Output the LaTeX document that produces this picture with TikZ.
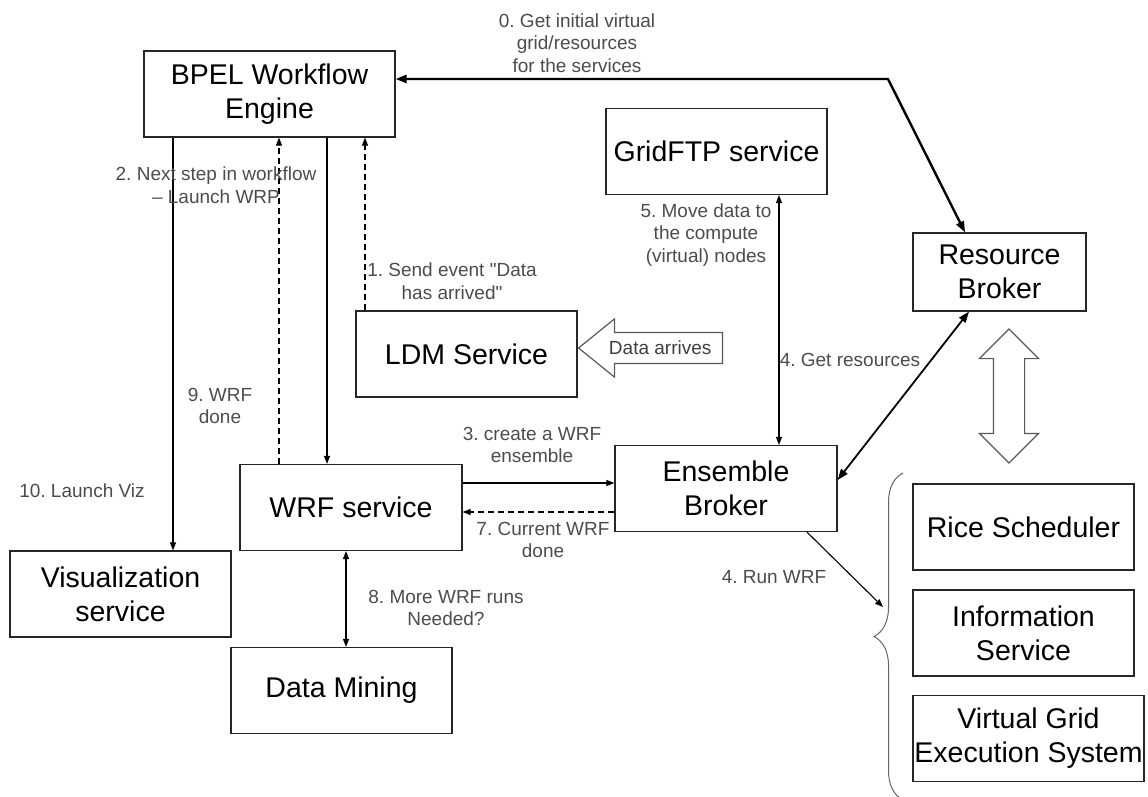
\documentclass[tikz,border=0pt]{standalone}
\usepackage{fontspec}
\setmainfont{Liberation Sans}
\usepackage{tikz}
\usetikzlibrary{arrows.meta, shapes.arrows, decorations.pathreplacing}
\frenchspacing

\begin{document}
\begin{tikzpicture}[x=1pt, y=-1pt, >={Triangle[length=8pt, width=6pt]}]
            \tikzstyle{every node}=[font=\fontsize{19}{22.5}\selectfont]
            \tikzstyle{svc}=[draw=black!85, line width=1.2pt, align=center, inner sep=0pt,
                font=\fontsize{28.5}{34}\selectfont, minimum width=221pt, minimum height=86pt]
            \tikzstyle{lbl}=[text=black!70, align=center, inner sep=0pt]
            \tikzstyle{link}=[line width=1.1pt, ->]
            \tikzstyle{event}=[link, dash pattern=on 6pt off 4pt]
            \tikzstyle{heavy}=[line width=2.4pt, {Triangle[length=11pt, width=8pt]}-{Triangle[length=11pt, width=8pt]}]
            \tikzstyle{hollow}=[draw=black!65, line width=1.2pt, inner sep=0pt]

            \useasboundingbox (0,0) rectangle (1148,797);

            % Services
            \node[svc, minimum width=251pt] (bpel) at (269.5,94) {BPEL Workflow\\Engine};
            \node[svc] (gridftp) at (716.5,151.5) {GridFTP service};
            \node[svc, minimum width=173pt, minimum height=78pt] (rb) at (999.5,272) {Resource\\Broker};
            \node[svc] (ldm) at (466.5,354) {LDM Service};
            \node[svc, minimum width=222pt] (ens) at (726,488.5) {Ensemble\\Broker};
            \node[svc, minimum width=222pt] (wrf) at (351,507.5) {WRF service};
            \node[svc] (viz) at (120.5,594) {Visualization\\service};
            \node[svc] (dm) at (341.5,690.5) {Data Mining};

            % Grid side
            \node[svc] (rice) at (1023.5,527) {Rice Scheduler};
            \node[svc] (info) at (1023.5,633) {Information\\Service};
            \node[svc, minimum width=231pt] (vgrid) at (1028.5,738.5) {Virtual Grid\\Execution System};
            \draw[black!60, line width=1pt, decorate, decoration={brace, amplitude=29pt}]
                (903,800) -- (903,473);
            \coordinate (runin) at (883,607);
            \coordinate (bend) at (888,79);

            % Hollow arrows
            \node[hollow, single arrow, shape border rotate=180, single arrow head extend=13.5pt,
                single arrow tip angle=78, minimum height=144pt, inner xsep=4pt, inner ysep=8pt,
                anchor=tip, text=black!75] (arrives) at ([yshift=6pt]ldm.east) {Data arrives};
            \node[hollow, double arrow, rotate=90, minimum height=134pt, inner ysep=15pt,
                double arrow head extend=14pt] (swap) at (1009,396) {};

            % Messages
            \draw[heavy] ([yshift=15pt]bpel.east) -- (bend) -- ([xshift=-34.5pt]rb.north);
            \draw[event] ([xshift=-101.5pt]ldm.north) -- ([xshift=95.5pt]bpel.south);
            \draw[link] ([xshift=57.5pt]bpel.south) -- ([xshift=-24pt]wrf.north);
            \draw[event] ([xshift=-72pt]wrf.north) -- ([xshift=9.5pt]bpel.south);
            \draw[link] ([xshift=-96.5pt]bpel.south) -- ([xshift=52.5pt]viz.north);
            \draw[link] ([yshift=24.5pt]wrf.east) -- ([yshift=5.5pt]ens.west);
            \draw[event] ([yshift=-23.5pt]ens.west) -- ([yshift=-4.5pt]wrf.east);
            \draw[link, <->] ([xshift=62.5pt]gridftp.south) -- ([xshift=53pt]ens.north);
            \draw[heavy, line width=1.8pt] ([yshift=8.5pt]ens.east) -- ([xshift=-30.5pt]rb.south);
            \draw[link] ([xshift=81pt]ens.south) -- (runin);
            \draw[link, <->] ([xshift=-5pt]wrf.south) -- ([xshift=4.5pt]dm.north);

            % Labels
            \node[lbl] (l0) at (577,43) {0. Get initial virtual\\grid/resources\\for the services};
            \node[lbl] (l1) at (452,281) {1. Send event \textquotedbl Data\\has arrived\textquotedbl};
            \node[lbl] (l2) at (216,185) {2. Next step in workflow\\– Launch WRP};
            \node[lbl] (l3) at (532,445) {3. create a WRF\\ensemble};
            \node[lbl] (l4a) at (850,360) {4. Get resources};
            \node[lbl] (l4b) at (774,577) {4. Run WRF};
            \node[lbl] (l5) at (706,235) {5. Move data to\\the compute\\(virtual) nodes};
            \node[lbl] (l7) at (543,540) {7. Current WRF\\done};
            \node[lbl] (l8) at (446,608) {8. More WRF runs\\Needed?};
            \node[lbl] (l9) at (220,406) {9. WRF\\done};
            \node[lbl] (l10) at (82,491) {10. Launch Viz};
\end{tikzpicture}
\end{document}
